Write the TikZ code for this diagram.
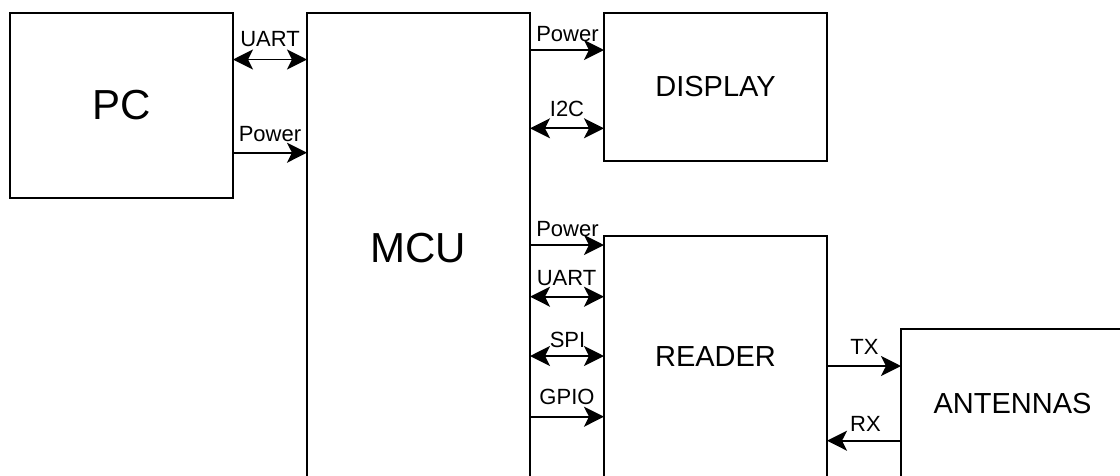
\documentclass[tikz,border=0pt]{standalone}
\usepackage{fontspec}
\setmainfont{Liberation Sans}
\usetikzlibrary{arrows.meta}
\begin{document}
\begin{tikzpicture}[x=1pt,y=-1pt,
  blk/.style={draw,line width=1.8pt,outer sep=0pt,inner sep=0pt,minimum width=223pt},
  big/.style={font=\fontsize{42}{48}\selectfont},
  mid/.style={font=\fontsize{29}{34}\selectfont},
  lbl/.style={font=\fontsize{22}{25}\selectfont,anchor=base,inner sep=0pt},
  tip/.tip={Stealth[length=20pt,width=20pt,inset=5pt]},
  conn/.style={line width=1.8pt,-tip},
  bconn/.style={line width=1.8pt,tip-tip}]
\useasboundingbox (0,0) rectangle (1120,475);
\clip (0,0) rectangle (1120,475);
% blocks
\node[blk,big,minimum height=185pt] (PC) at (121.5,105.5) {PC};
\node[blk,big,minimum height=470pt] (MCU) at (418.5,248) {MCU};
\node[blk,mid,minimum height=148pt] (DISP) at (715.5,87) {DISPLAY};
\node[blk,mid,minimum height=242pt] (RDR) at (715.5,357) {READER};
\node[blk,mid,minimum height=150pt] (ANT) at (1012.5,404) {ANTENNAS};
% rows
\coordinate (r1) at (0,59.5);
\coordinate (r2) at (0,152.7);
\coordinate (r3) at (0,50);
\coordinate (r4) at (0,128.3);
\coordinate (r5) at (0,245);
\coordinate (r6) at (0,296.7);
\coordinate (r7) at (0,356);
\coordinate (r8) at (0,416.7);
\coordinate (r9) at (0,366);
\coordinate (r10) at (0,440.7);
% connectors
\draw[bconn] (PC.east |- r1) -- (MCU.west |- r1);
\draw[conn] (PC.east |- r2) -- (MCU.west |- r2);
\draw[conn] (MCU.east |- r3) -- (DISP.west |- r3);
\draw[bconn] (MCU.east |- r4) -- (DISP.west |- r4);
\draw[conn] (MCU.east |- r5) -- (RDR.west |- r5);
\draw[bconn] (MCU.east |- r6) -- (RDR.west |- r6);
\draw[bconn] (MCU.east |- r7) -- (RDR.west |- r7);
\draw[conn] (MCU.east |- r8) -- (RDR.west |- r8);
\draw[conn] (RDR.east |- r9) -- (ANT.west |- r9);
\draw[conn] (ANT.west |- r10) -- (RDR.east |- r10);
% labels
\node[lbl] (l1) at (270,46.5) {UART};
\node[lbl] (l2) at (270,141.7) {Power};
\node[lbl] (l3) at (567.5,41) {Power};
\node[lbl] (l4) at (567,116.7) {I2C};
\node[lbl] (l5) at (567.5,236) {Power};
\node[lbl] (l6) at (566.5,285) {UART};
\node[lbl] (l7) at (567.5,347.3) {SPI};
\node[lbl] (l8) at (567,404) {GPIO};
\node[lbl] (l9) at (864.5,354) {TX};
\node[lbl] (l10) at (865.5,431) {RX};
\end{tikzpicture}
\end{document}
